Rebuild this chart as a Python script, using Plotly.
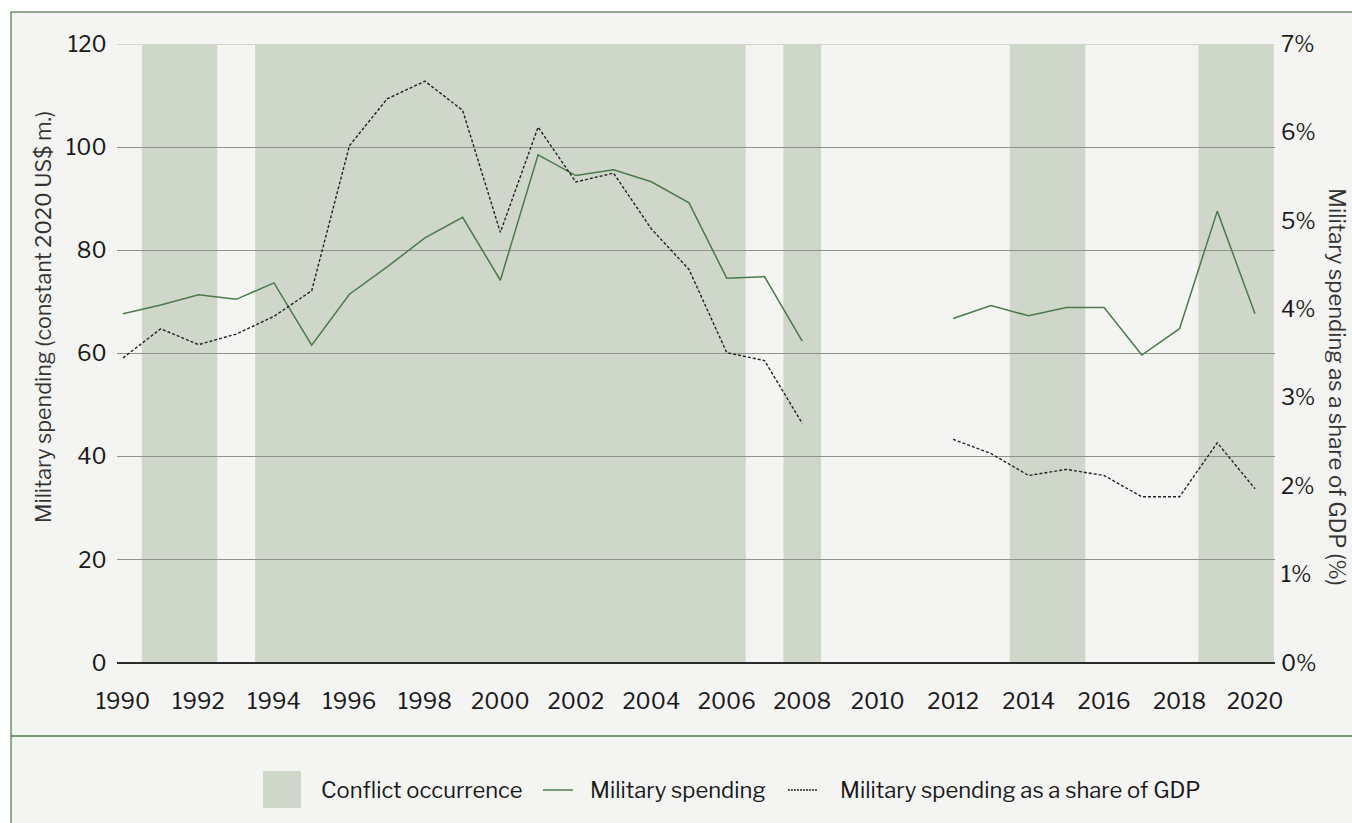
import plotly.graph_objects as go

# ---------------- data ----------------
years = list(range(1990, 2021))
military_spending = [67.7, 69.4, 71.4, 70.5, 73.7, 61.6, 71.5, 76.8, 82.4, 86.4,
                     74.2, 98.5, 94.5, 95.6, 93.3, 89.2, 74.6, 74.9, 62.4, None,
                     None, None, 66.8, 69.3, 67.3, 68.9, 68.9, 59.7, 64.8, 87.6, 67.7]
gdp_share = [3.45, 3.78, 3.60, 3.72, 3.92, 4.21, 5.85, 6.38, 6.58, 6.25,
             4.87, 6.06, 5.44, 5.54, 4.91, 4.45, 3.51, 3.42, 2.71, None,
             None, None, 2.53, 2.37, 2.12, 2.19, 2.12, 1.88, 1.88, 2.49, 1.97]
conflict_years = [1991, 1992, 1994, 1995, 1996, 1997, 1998, 1999, 2000, 2001,
                  2002, 2003, 2004, 2005, 2006, 2008, 2014, 2015, 2019, 2020]
x_ticks = list(range(1990, 2021, 2))
left_ticks = [0, 20, 40, 60, 80, 100]
left_max = 120
right_ticks = [0, 1, 2, 3, 4, 5, 6, 7]

legend_labels = ["Conflict occurrence", "Military spending",
                 "Military spending as a share of GDP"]

# ---------------- styles ----------------
FONT = "Libre Franklin, Liberation Sans, Arial, sans-serif"
BG = "#f4f4f2"
SHADE = "#cfd7cb"
GREEN = "#4b7a4a"
FRAME = "#6f8f6d"
TXT = "#1a1a1a"

# group consecutive conflict years into spans
spans = []
for yr in conflict_years:
    if spans and yr == spans[-1][1] + 1:
        spans[-1][1] = yr
    else:
        spans.append([yr, yr])

fig = go.Figure()

fig.add_trace(go.Scatter(
    x=years, y=military_spending, mode="lines", name=legend_labels[1],
    line=dict(color=GREEN, width=1.5), connectgaps=False, yaxis="y",
    showlegend=False))
fig.add_trace(go.Scatter(
    x=years, y=gdp_share, mode="lines", name=legend_labels[2],
    line=dict(color="#222222", width=1.4, dash="3px,2px"), connectgaps=False,
    yaxis="y2", showlegend=False))

shapes = []
# card background + frame
shapes.append(dict(type="rect", xref="paper", yref="paper",
                   x0=-0.0915, x1=1.3, y0=-0.4, y1=1.0517,
                   fillcolor=BG, line=dict(color=FRAME, width=1.5), layer="below"))
# separator line above legend
shapes.append(dict(type="line", xref="paper", yref="paper",
                   x0=-0.0915, x1=1.3, y0=-0.1179, y1=-0.1179,
                   line=dict(color="#4f7a4d", width=1.5), layer="below"))
# conflict bands
for a, b in spans:
    shapes.append(dict(type="rect", xref="x", yref="y",
                       x0=a - 0.5, x1=b + 0.5, y0=0, y1=left_max,
                       fillcolor=SHADE, line=dict(width=0), layer="below"))
# top gridline (lighter)
shapes.append(dict(type="line", xref="paper", yref="y", x0=0, x1=1,
                   y0=left_max, y1=left_max,
                   line=dict(color="#b4b8b1", width=1.2), layer="below"))

# manual legend
shapes.append(dict(type="rect", xref="paper", yref="paper",
                   x0=0.1261, x1=0.1589, y0=-0.2343, y1=-0.1745,
                   fillcolor=SHADE, line=dict(width=0)))
shapes.append(dict(type="line", xref="paper", yref="paper",
                   x0=0.3679, x1=0.3938, y0=-0.2052, y1=-0.2052,
                   line=dict(color=GREEN, width=1.5)))
shapes.append(dict(type="line", xref="paper", yref="paper",
                   x0=0.5794, x1=0.6045, y0=-0.2052, y1=-0.2052,
                   line=dict(color="#222222", width=1.3, dash="2px,1px")))

annotations = [
    dict(text=legend_labels[0], xref="paper", yref="paper", x=0.1744, y=-0.2052,
         xanchor="left", yanchor="middle", showarrow=False,
         font=dict(family=FONT, size=22, color=TXT)),
    dict(text=legend_labels[1], xref="paper", yref="paper", x=0.4067, y=-0.2052,
         xanchor="left", yanchor="middle", showarrow=False,
         font=dict(family=FONT, size=22, color=TXT)),
    dict(text=legend_labels[2], xref="paper", yref="paper", x=0.6226, y=-0.2052,
         xanchor="left", yanchor="middle", showarrow=False,
         font=dict(family=FONT, size=22, color=TXT)),
    dict(text="Military spending (constant 2020 US$ m.)", xref="paper", yref="paper",
         x=-0.0639, y=0.559, xanchor="center", yanchor="middle", textangle=-90,
         showarrow=False, font=dict(family=FONT, size=21.5, color="#333333")),
    dict(text="Military spending as a share of GDP (%)", xref="paper", yref="paper",
         x=1.0535, y=0.446, xanchor="center", yanchor="middle", textangle=90,
         showarrow=False, font=dict(family=FONT, size=22, color="#333333")),
]

fig.update_layout(
    width=1352, height=823,
    margin=dict(l=117, r=77, t=44, b=160),
    paper_bgcolor="white", plot_bgcolor=BG,
    font=dict(family=FONT, size=22, color=TXT),
    showlegend=False,
    shapes=shapes, annotations=annotations,
    xaxis=dict(range=[1989.84, 2020.53], tickmode="array", tickvals=x_ticks,
               ticktext=[str(t) for t in x_ticks],
               showgrid=False, zeroline=False, showline=False,
               ticks="outside", ticklen=19, tickcolor="rgba(0,0,0,0)",
               tickfont=dict(family=FONT, size=22, color=TXT)),
    yaxis=dict(range=[0, left_max], tickmode="array",
               tickvals=left_ticks + [left_max],
               showgrid=True, gridcolor="#8f938c", gridwidth=1,
               zeroline=True, zerolinecolor="#2b2b2b", zerolinewidth=1.5,
               showline=False, ticks="outside", ticklen=5,
               tickcolor="rgba(0,0,0,0)",
               tickfont=dict(family=FONT, size=22, color=TXT)),
    yaxis2=dict(range=[0, 7], tickmode="array", tickvals=right_ticks,
                ticktext=[f"{t}%" for t in right_ticks],
                overlaying="y", side="right", showgrid=False, zeroline=False,
                showline=False, ticks="", ticklabelstandoff=5,
                tickfont=dict(family=FONT, size=22, color=TXT)),
)

fig.write_html("out.html", config={"displayModeBar": False},
               post_script="document.body.style.margin='0';document.body.style.overflow='hidden';")
